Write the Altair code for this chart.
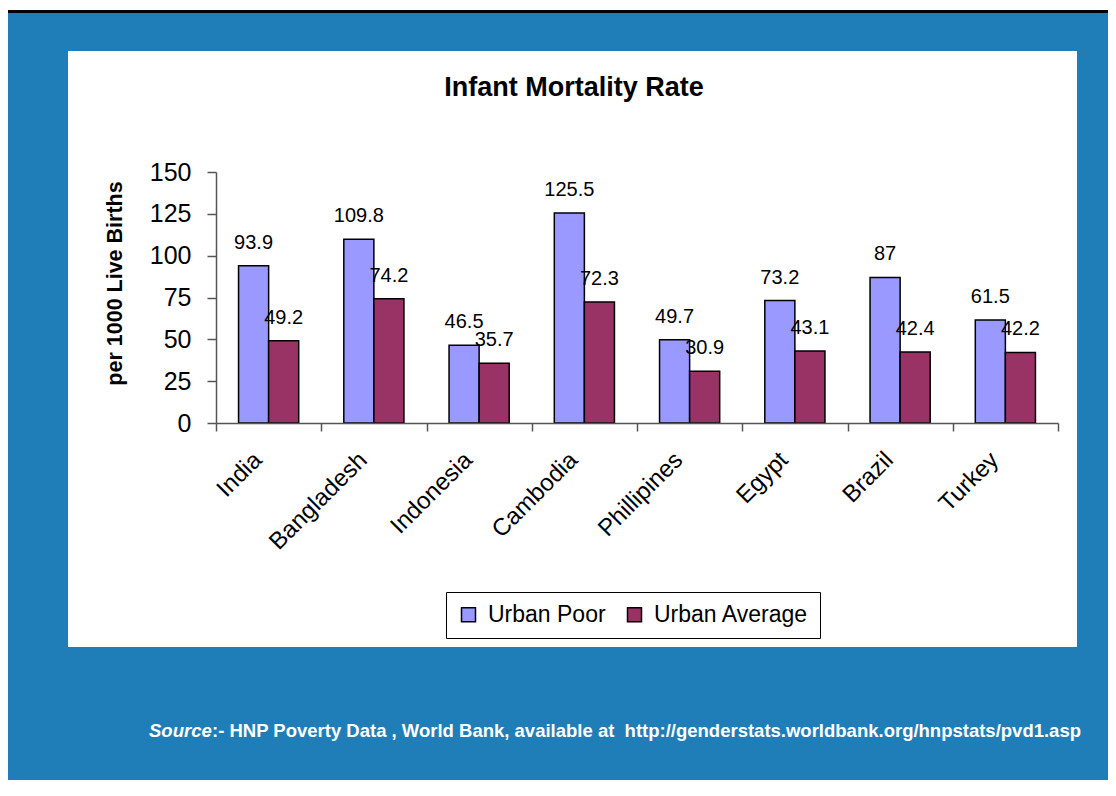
import altair as alt
import pandas as pd

countries = ["India", "Bangladesh", "Indonesia", "Cambodia", "Phillipines", "Egypt", "Brazil", "Turkey"]
urban_poor = [93.9, 109.8, 46.5, 125.5, 49.7, 73.2, 87, 61.5]
urban_average = [49.2, 74.2, 35.7, 72.3, 30.9, 43.1, 42.4, 42.2]
series = ["Urban Poor", "Urban Average"]
colors = ["#9999FF", "#993366"]
y_ticks = [0, 25, 50, 75, 100, 125, 150]

title_text = "Infant Mortality Rate"
y_title = "per 1000 Live Births"
source_lead = "Source"
source_rest = ":- HNP Poverty Data , World Bank, available at \u00a0http://genderstats.worldbank.org/hnpstats/pvd1.asp"

rows = []
for c, p, a in zip(countries, urban_poor, urban_average):
    rows.append({"country": c, "series": series[0], "value": p})
    rows.append({"country": c, "series": series[1], "value": a})
df = pd.DataFrame(rows)

FONT = "Liberation Sans"
BLUE = "#1F7EB7"

one = pd.DataFrame({"k": [0]})

x_enc = alt.X("country:N", sort=countries,
              scale=alt.Scale(paddingInner=0, paddingOuter=0),
              axis=alt.Axis(title=None, labelAngle=-45, labelAlign="right", labelBaseline="middle",
                            labelFont=FONT, labelFontSize=24, labelColor="black",
                            labelPadding=25, labelOffset=-11,
                            tickBand="extent", tickSize=8, tickColor="#555555",
                            domainColor="#555555", domainWidth=1.5, tickWidth=1.5,
                            zindex=1))
y_enc = alt.Y("value:Q", scale=alt.Scale(domain=[0, 150], nice=False),
              axis=alt.Axis(values=y_ticks, title=y_title, titleFont=FONT, titleFontSize=21.5,
                            titleFontWeight="bold", titleColor="black",
                            titleX=-95, titleY=111, titleAlign="center", titleBaseline="alphabetic",
                            labelFont=FONT, labelFontSize=25, labelColor="black", labelPadding=16,
                            tickSize=9, tickColor="#555555", tickWidth=1.5,
                            domainColor="#555555", domainWidth=1.5, grid=False, zindex=1))
xo_enc = alt.XOffset("series:N", sort=series,
                     scale=alt.Scale(paddingInner=0, paddingOuter=0.75))

panel = alt.Chart(one).mark_rect(color="white").encode(
    x=alt.value(-148), x2=alt.value(861), y=alt.value(-121), y2=alt.value(475))
top_white = alt.Chart(one).mark_rect(color="white").encode(
    x=alt.value(-208), x2=alt.value(892), y=alt.value(-164), y2=alt.value(-162))
top_black = alt.Chart(one).mark_rect(color="black").encode(
    x=alt.value(-208), x2=alt.value(892), y=alt.value(-162), y2=alt.value(-159))

bars = alt.Chart(df).mark_bar(stroke="black", strokeWidth=1.5).encode(
    x=x_enc, xOffset=xo_enc, y=y_enc,
    color=alt.Color("series:N", sort=series,
                    scale=alt.Scale(domain=series, range=colors),
                    legend=alt.Legend(title=None, orient="none", direction="horizontal",
                                      legendX=230, legendY=420,
                                      symbolType="square", symbolSize=196,
                                      symbolStrokeColor="black", symbolStrokeWidth=1.5,
                                      labelFont=FONT, labelFontSize=23, labelColor="black",
                                      labelOffset=8, columnPadding=17, padding=11,
                                      strokeColor="black", fillColor="white")))

labels = alt.Chart(df).mark_text(font=FONT, fontSize=20, color="black",
                                 baseline="alphabetic", dy=-17).encode(
    x=alt.X("country:N", sort=countries), xOffset=alt.XOffset("series:N", sort=series),
    y="value:Q", text="value:Q")

title = alt.Chart(one).mark_text(text=title_text, font=FONT, fontSize=27, fontWeight="bold",
                                 color="black", align="center", baseline="alphabetic").encode(
    x=alt.value(358), y=alt.value(-76))

src1 = alt.Chart(one).mark_text(text=source_lead, font=FONT, fontSize=18.5, fontWeight="bold",
                                fontStyle="italic", color="white", align="left",
                                baseline="alphabetic").encode(
    x=alt.value(-67), y=alt.value(565))
src2 = alt.Chart(one).mark_text(text=source_rest, font=FONT, fontSize=18.5, fontWeight="bold",
                                color="white", align="left", baseline="alphabetic").encode(
    x=alt.value(-4), y=alt.value(565))

chart = alt.layer(panel, top_white, top_black, bars, labels, title, src1, src2).properties(
    width=842, height=251,
    autosize=alt.AutoSizeParams(type="none"),
    padding={"left": 208, "top": 164, "right": 50, "bottom": 357},
    background=BLUE,
).configure_view(strokeWidth=0)

chart.save("out.html", embed_options={"renderer": "svg", "actions": False})
